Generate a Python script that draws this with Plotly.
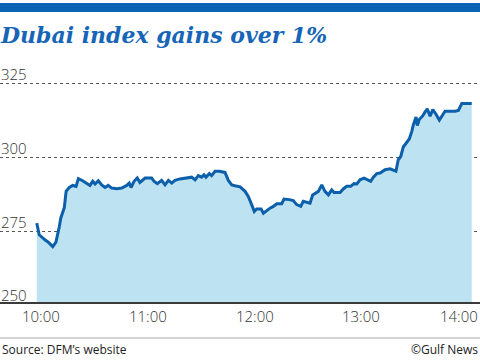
import plotly.graph_objects as go

# ---- data ----
minutes_after_10 = [-2.4, -1.0, 2.2, 4.1, 6.6, 8.4, 10.3, 11.1, 13.1, 14.1, 15.9, 17.8, 19.7, 21.0,
    23.4, 25.7, 27.5, 29.1, 30.4, 32.2, 34.1, 36.0, 37.8, 39.7, 42.6, 45.4, 48.2, 49.6, 50.6,
    52.3, 54.1, 55.6, 57.5, 58.5, 62.2, 63.5, 65.4, 67.8, 69.7, 71.6, 73.5, 75.3, 78.1, 82.8,
    84.7, 86.6, 88.4, 90.3, 91.6, 92.7, 94.6, 95.9, 97.8, 100.2, 103.4, 105.3, 107.2, 109.0,
    111.9, 114.7, 116.5, 118.4, 119.9, 121.2, 123.7, 125.0, 126.9, 128.7, 130.6, 132.5, 135.3,
    136.6, 139.6, 141.8, 143.7, 146.0, 147.4, 149.7, 151.2, 152.7, 154.6, 155.9, 157.8, 159.6,
    161.5, 163.4, 164.7, 168.1, 169.9, 171.8, 174.1, 175.9, 177.5, 179.3, 181.6, 183.4, 185.3,
    186.8, 188.7, 190.6, 192.4, 193.4, 196.2, 199.5, 200.8, 202.2, 203.6, 205.6, 207.0, 208.4,
    209.3, 210.8, 211.5, 212.6, 214.6, 215.8, 217.1, 218.7, 220.2, 222.1, 223.9, 227.1, 232.7,
    234.6, 236.5, 242.1]
index_values = [277.85, 273.9, 272.2, 271.4, 269.9, 271.4, 276.7, 279.5, 283.1, 288.6,
    289.9, 290.6, 290.3, 292.9, 292.2, 291.4, 290.6, 292.0, 291.1, 292.2, 290.8,
    289.9, 290.6, 289.7, 289.5, 289.7, 290.6, 291.4, 289.9, 292.0, 293.1, 291.6,
    292.5, 293.1, 293.1, 292.0, 291.2, 292.3, 290.8, 292.3, 291.4, 292.3, 292.8,
    293.1, 293.4, 292.5, 293.9, 293.4, 294.2, 293.4, 294.6, 293.9, 295.4, 295.4,
    295.0, 292.3, 290.8, 290.5, 290.1, 288.6, 286.9, 284.1, 281.8, 282.6, 282.6,
    281.2, 282.1, 282.9, 283.5, 284.4, 284.4, 286.0, 285.8, 285.5, 284.1, 283.5,
    285.2, 284.8, 284.6, 287.4, 288.0, 288.6, 290.8, 288.6, 287.4, 289.1, 288.2,
    288.2, 289.4, 290.3, 290.3, 291.2, 291.1, 292.5, 293.1, 292.5, 292.0, 293.4,
    294.6, 294.8, 295.4, 295.9, 296.2, 295.4, 299.3, 300.4, 303.6, 305.2, 306.3,
    308.9, 311.2, 313.8, 310.9, 312.9, 314.2, 315.4, 316.5, 314.0, 316.3, 314.6,
    312.7, 315.7, 315.7, 316.0, 318.3, 318.3]
x_tick_vals = [0, 60, 120, 180, 240]
x_tick_text = ["10:00", "11:00", "12:00", "13:00", "14:00"]
y_label_vals = [250, 275, 300, 325]
y_label_text = ["250", "275", "300", "325"]

W, H = 480, 360
T, B = 69, 58
PH = H - T - B
YR = [251.15, 330]
XR = [-23.05, 246.74]

def py(p):  # pixel from top -> paper y
    return (H - B - p) / PH

def px(p):
    return p / W

BLUE = "#0c5fab"
FILL = "#bde3f2"
LABEL_FONT = "Open Sans"

fig = go.Figure()
fig.add_trace(go.Scatter(
    x=minutes_after_10, y=index_values, mode="lines",
    line=dict(color=BLUE, width=3), fill="tozeroy", fillcolor=FILL,
    hoverinfo="skip"))

annotations = []
for v, t in zip(y_label_vals, y_label_text):
    yp = (v - YR[0]) / (YR[1] - YR[0])
    annotations.append(dict(x=0, xref="paper", y=yp, yref="paper", text=t, showarrow=False,
                            xanchor="left", yanchor="bottom", xshift=-1, yshift=-2,
                            font=dict(family=LABEL_FONT, size=15, color="#333333", weight=300)))

for v, t in zip(x_tick_vals, x_tick_text):
    xp = (v - XR[0]) / (XR[1] - XR[0])
    anc = "center"
    if xp * W + 22 > W:
        xp, anc = 1.0, "right"
    annotations.append(dict(x=xp, xref="paper", y=py(316), yref="paper", text=t,
                            showarrow=False, xanchor=anc, yanchor="middle",
                            font=dict(family=LABEL_FONT, size=15, color="#333333", weight=300)))

annotations += [
    dict(x=px(3), xref="paper", y=py(35), yref="paper", text="<b><i>Dubai index gains over 1%</i></b>",
         showarrow=False, xanchor="left", yanchor="middle", xshift=-5,
         font=dict(family="DejaVu Serif", size=22, color="#1665b6")),
    dict(x=0, xref="paper", y=py(349), yref="paper", text="Source: DFM\u2019s website",
         showarrow=False, xanchor="left", yanchor="middle",
         font=dict(family=LABEL_FONT, size=12, color="#222222")),
    dict(x=1, xref="paper", y=py(349), yref="paper", text="\u00a9Gulf News",
         showarrow=False, xanchor="right", yanchor="middle",
         font=dict(family=LABEL_FONT, size=12, color="#222222")),
]

shapes = [
    dict(type="rect", xref="paper", yref="paper", x0=0, x1=1, y0=py(12), y1=py(3),
         fillcolor="#0b63b5", line=dict(width=0), layer="above"),
    dict(type="line", xref="paper", yref="paper", x0=0, x1=1, y0=py(338), y1=py(338),
         line=dict(color="#aaaaaa", width=1)),
]

fig.update_layout(
    width=W, height=H,
    margin=dict(l=0, r=0, t=T, b=B, pad=0),
    paper_bgcolor="white", plot_bgcolor="white",
    showlegend=False,
    annotations=annotations, shapes=shapes,
    xaxis=dict(range=XR, showticklabels=False,
               showgrid=False, zeroline=False, showline=True, linecolor="#3a3a3a", linewidth=2,
               ticks=""),
    yaxis=dict(range=YR, tickvals=[275, 300, 325], showticklabels=False,
               showgrid=True, gridcolor="#555555", griddash="dot", gridwidth=1,
               zeroline=False, showline=False, layer="above traces"),
)

fig.write_html("out.html", config={"displayModeBar": False},
               post_script="document.body.style.margin='0';document.body.style.overflow='hidden';")
